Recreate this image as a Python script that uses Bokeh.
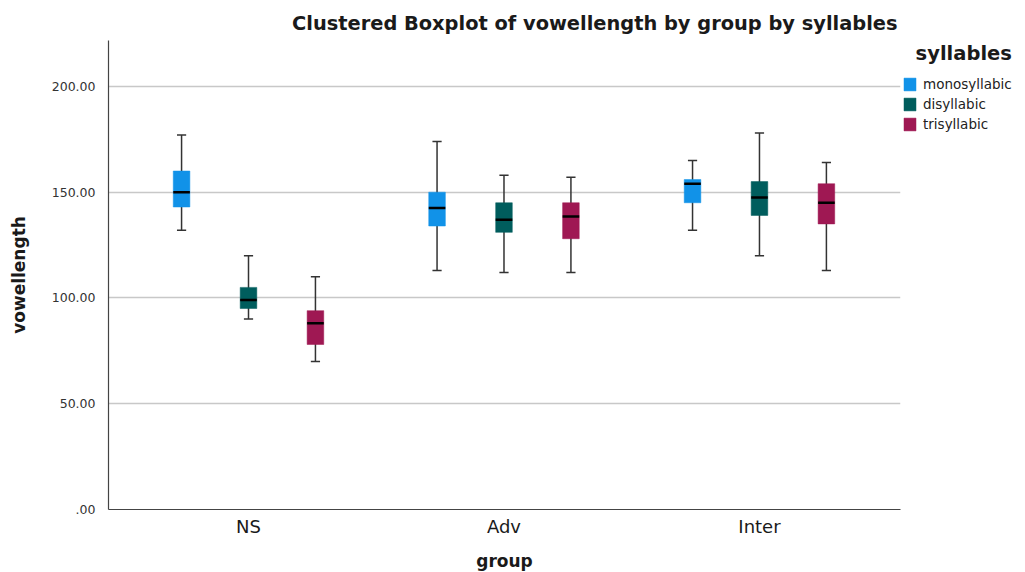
from bokeh.plotting import figure
from bokeh.models import (Range1d, FixedTicker, Legend, LegendItem, Title,
                          ColumnDataSource)
from bokeh.embed import file_html
from bokeh.resources import INLINE

groups = ["NS", "Adv", "Inter"]
syllables = ["monosyllabic", "disyllabic", "trisyllabic"]
colors = ["#1192e8", "#005d5d", "#9f1853"]

# per syllable type, values for NS, Adv, Inter
lower = {"monosyllabic": [132, 113, 132],
         "disyllabic":   [90, 112, 120],
         "trisyllabic":  [70, 112, 113]}
q1 = {"monosyllabic": [143, 134, 145],
      "disyllabic":   [95, 131, 139],
      "trisyllabic":  [78, 128, 135]}
median = {"monosyllabic": [150, 142.5, 154],
          "disyllabic":   [99, 137, 147.5],
          "trisyllabic":  [88, 138.5, 145]}
q3 = {"monosyllabic": [160, 150, 156],
      "disyllabic":   [105, 145, 155],
      "trisyllabic":  [94, 145, 154]}
upper = {"monosyllabic": [177, 174, 165],
         "disyllabic":   [120, 158, 178],
         "trisyllabic":  [110, 157, 164]}

y_ticks = [0, 50, 100, 150, 200]
y_tick_labels = [".00", "50.00", "100.00", "150.00", "200.00"]

offsets = [-0.262, 0.0, 0.262]
box_w = 0.065
cap_half = 0.018

FONT = "DejaVu Sans"

p = figure(width=1017, height=564, frame_width=792, frame_height=469,
           output_backend="svg", toolbar_location=None,
           x_range=Range1d(-0.548, 2.552), y_range=Range1d(0, 221.7),
           min_border_left=108, min_border_top=40, min_border_bottom=55,
           min_border_right=117)
p.outline_line_color = None
p.background_fill_color = "white"
p.border_fill_color = "white"

title = Title(text="Clustered Boxplot of vowellength by group by syllables",
              align="right", text_font=FONT, text_font_size="19.4px",
              text_font_style="bold", text_color="#1a1a1a", offset=3,
              standoff=11)
p.add_layout(title, "above")

items = []
for s, c, off in zip(syllables, colors, offsets):
    xs = [i + off for i in range(len(groups))]
    src = ColumnDataSource(dict(x=xs, lo=lower[s], q1=q1[s], med=median[s],
                                q3=q3[s], hi=upper[s],
                                cl=[x - cap_half for x in xs],
                                cr=[x + cap_half for x in xs],
                                bl=[x - box_w / 2 for x in xs],
                                br=[x + box_w / 2 for x in xs]))
    p.segment(x0="x", y0="lo", x1="x", y1="hi", source=src,
              line_color="#333333", line_width=1.5)
    p.segment(x0="cl", y0="lo", x1="cr", y1="lo", source=src,
              line_color="#333333", line_width=1.5)
    p.segment(x0="cl", y0="hi", x1="cr", y1="hi", source=src,
              line_color="#333333", line_width=1.5)
    r = p.vbar(x="x", bottom="q1", top="q3", width=box_w, source=src,
               fill_color=c, line_color=c, line_width=0.5)
    p.segment(x0="bl", y0="med", x1="br", y1="med", source=src,
              line_color="black", line_width=2.5)
    items.append(LegendItem(label=s, renderers=[r]))

legend = Legend(items=items, title="\u00a0\u00a0syllables",
                location="top_left",
                title_text_font=FONT, title_text_font_size="19.5px",
                title_text_font_style="bold", title_text_color="#1a1a1a",
                label_text_font=FONT, label_text_font_size="13.5px",
                label_text_color="#222222", glyph_width=15, glyph_height=16,
                label_height=16, spacing=4, padding=0, margin=2,
                border_line_color=None, background_fill_alpha=0,
                title_standoff=11, label_standoff=6)
p.add_layout(legend, "right")

p.xaxis.ticker = FixedTicker(ticks=[0, 1, 2])
p.xaxis.major_label_overrides = {0: "NS", 1: "Adv", 2: "Inter"}
p.xaxis.axis_label = "group"
p.yaxis.ticker = FixedTicker(ticks=y_ticks)
p.yaxis.major_label_overrides = dict(zip(y_ticks, y_tick_labels))
p.yaxis.axis_label = "vowellength"

for ax in (p.xaxis[0], p.yaxis[0]):
    ax.axis_line_color = "#444444"
    ax.axis_line_width = 1.2
    ax.major_tick_line_color = None
    ax.minor_tick_line_color = None
    ax.axis_label_text_font = FONT
    ax.axis_label_text_font_style = "bold"
    ax.axis_label_text_color = "#1a1a1a"
    ax.major_label_text_font = FONT

p.xaxis.axis_label_text_font_size = "17px"
p.yaxis.axis_label_text_font_size = "17px"
p.xaxis.major_label_text_font_size = "18px"
p.xaxis.major_label_text_color = "#1a1a1a"
p.xaxis.major_label_standoff = 0
p.xaxis.axis_label_standoff = 11
p.yaxis.major_label_text_font_size = "12.5px"
p.yaxis.major_label_text_color = "#333333"
p.yaxis.major_label_standoff = 7
p.yaxis.axis_label_standoff = 20

p.xgrid.grid_line_color = None
p.ygrid.ticker = FixedTicker(ticks=[50, 100, 150, 200])
p.ygrid.grid_line_color = "#c8c8c8"
p.ygrid.grid_line_width = 1.5

open("out.html", "w").write(file_html(p, INLINE))
